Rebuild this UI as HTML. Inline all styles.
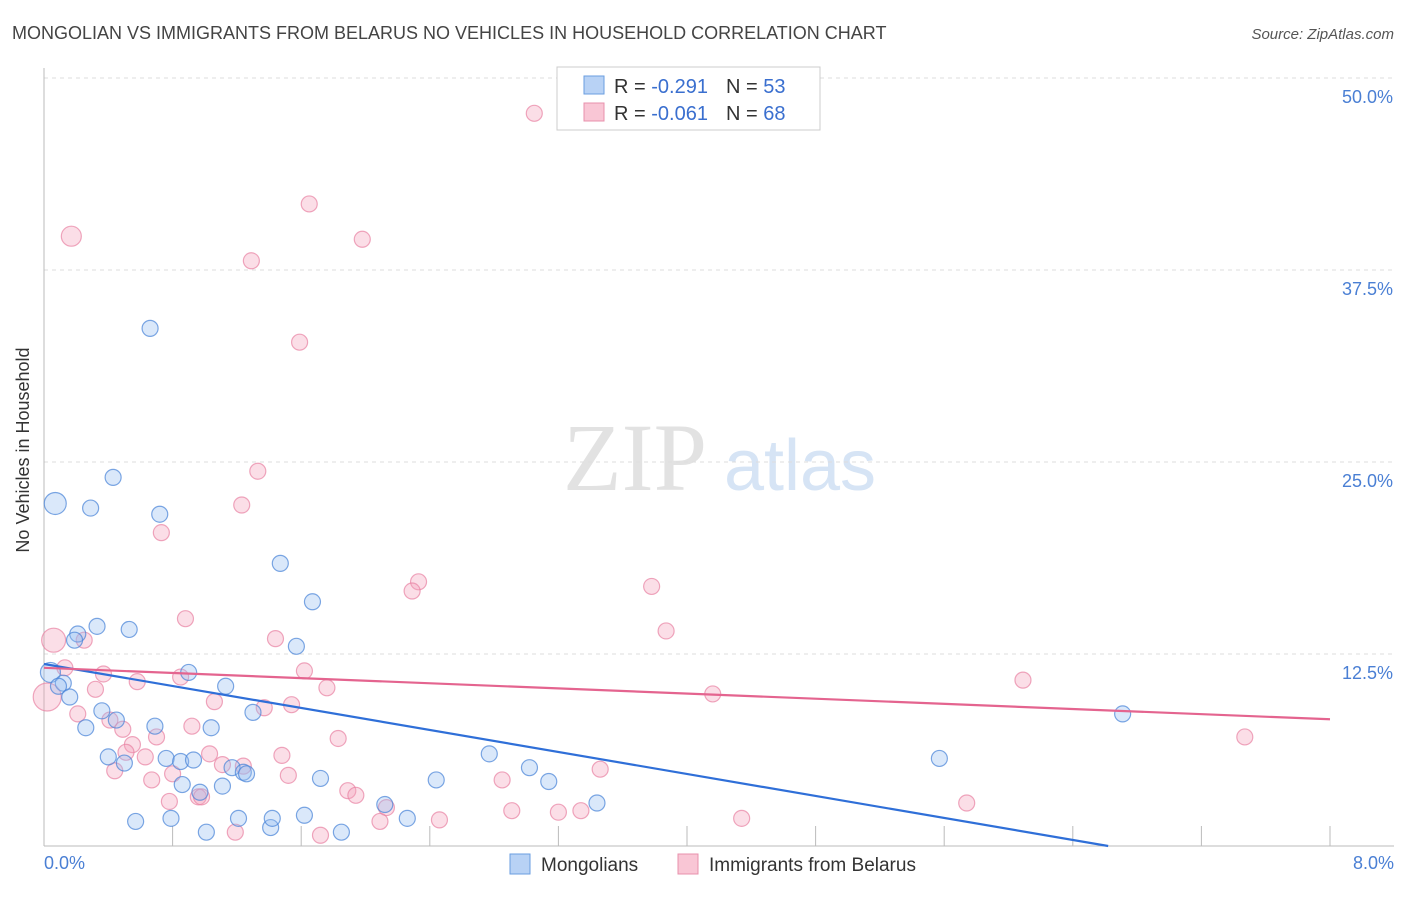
<!DOCTYPE html>
<html><head><meta charset="utf-8"><style>
body{margin:0;background:#fff;font-family:"Liberation Sans",sans-serif;}
svg text{font-family:"Liberation Sans",sans-serif;}
</style></head><body>
<svg width="1406" height="892" id="chart">
<text x="12" y="39" font-size="18" fill="#444">MONGOLIAN VS IMMIGRANTS FROM BELARUS NO VEHICLES IN HOUSEHOLD CORRELATION CHART</text>
<text x="1394" y="39" font-size="15" fill="#555" text-anchor="end" font-style="italic">Source: ZipAtlas.com</text>
<text x="635" y="490" font-size="96" fill="#e2e2e2" font-family="Liberation Serif" text-anchor="middle" style="font-family:'Liberation Serif',serif">ZIP</text>
<text x="800" y="490" font-size="72" fill="#d6e4f5" text-anchor="middle">atlas</text>
<g id="grid"></g>
<line x1="44" y1="68" x2="44" y2="846" stroke="#bbb"/>
<line x1="44" y1="846" x2="1394" y2="846" stroke="#bbb"/>
<text x="35" y="456" font-size="18" fill="#333" text-anchor="middle" transform="rotate(-90 29 456)">No Vehicles in Household</text>
<text x="44" y="869" font-size="18" fill="#4a7fd4">0.0%</text>
<text x="1394" y="869" font-size="18" fill="#4a7fd4" text-anchor="end">8.0%</text>
<g id="pts"></g>
<g id="lines"></g>
<g>
<rect x="557" y="67" width="263" height="63" fill="#fff" stroke="#ccc"/>
<rect x="584" y="76" width="20" height="18" fill="#b8d2f5" stroke="#6a9ee0"/>
<rect x="584" y="103" width="20" height="18" fill="#f9c6d5" stroke="#e890ac"/>
<text x="614" y="93" font-size="20" fill="#333">R = <tspan fill="#3a6fcf">-0.291</tspan><tspan dx="18">N = </tspan><tspan fill="#3a6fcf">53</tspan></text>
<text x="614" y="120" font-size="20" fill="#333">R = <tspan fill="#3a6fcf">-0.061</tspan><tspan dx="18">N = </tspan><tspan fill="#3a6fcf">68</tspan></text>
</g>
<g>
<rect x="510" y="854" width="20" height="20" fill="#b8d2f5" stroke="#6a9ee0"/>
<text x="541" y="871" font-size="19" fill="#333">Mongolians</text>
<rect x="678" y="854" width="20" height="20" fill="#f9c6d5" stroke="#e890ac"/>
<text x="709" y="871" font-size="19" fill="#333">Immigrants from Belarus</text>
</g>
</svg>
<script>
const yTicks=[12.5,25,37.5,50];
const yTickLabels=["12.5%","25.0%","37.5%","50.0%"];
const xTicks=[0,0.8,1.6,2.4,3.2,4.0,4.8,5.6,6.4,7.2,8.0];
const blueX=[0.66,0.43,0.07,0.29,0.72,1.47,1.67,0.33,0.53,0.21,0.19,1.57,0.90,0.04,0.12,0.09,0.16,1.13,0.36,0.45,0.69,1.04,1.30,0.26,0.40,0.50,0.76,0.85,0.93,1.17,1.24,1.26,2.77,3.02,1.72,2.44,3.14,0.86,0.97,1.11,2.12,3.44,5.57,6.71,0.57,0.79,1.01,1.21,1.41,1.42,1.62,1.85,2.26];
const blueY=[33.7,24.0,22.3,22.0,21.6,18.4,15.9,14.3,14.1,13.8,13.4,13.0,11.3,11.3,10.6,10.4,9.7,10.4,8.8,8.2,7.8,7.7,8.7,7.7,5.8,5.4,5.7,5.5,5.6,5.1,4.8,4.7,6.0,5.1,4.4,4.3,4.2,4.0,3.5,3.9,2.7,2.8,5.7,8.6,1.6,1.8,0.9,1.8,1.2,1.8,2.0,0.9,1.8];
const blueR=[8,8,11,8,8,8,8,8,8,8,8,8,8,10,8,8,8,8,8,8,8,8,8,8,8,8,8,8,8,8,8,8,8,8,8,8,8,8,8,8,8,8,8,8,8,8,8,8,8,8,8,8,8];
const pinkX=[3.05,0.17,1.65,1.98,1.29,1.59,1.33,1.23,0.73,2.33,2.29,3.78,0.88,3.87,0.06,0.25,1.44,0.13,1.62,0.37,0.58,0.85,0.32,1.76,1.06,1.37,1.54,4.16,6.09,0.02,0.21,0.41,0.49,0.92,0.70,1.83,0.55,0.51,0.63,1.03,1.48,1.24,1.11,0.44,0.67,0.80,1.52,2.85,3.46,7.47,1.89,1.94,0.96,0.78,2.13,2.91,3.20,3.34,5.74,2.09,2.46,4.34,1.19,1.72,0.98];
const pinkY=[47.7,39.7,41.8,39.5,38.1,32.8,24.4,22.2,20.4,17.2,16.6,16.9,14.8,14.0,13.4,13.4,13.5,11.6,11.4,11.2,10.7,11.0,10.2,10.3,9.4,9.0,9.2,9.9,10.8,9.7,8.6,8.2,7.6,7.8,7.1,7.0,6.6,6.1,5.8,6.0,5.9,5.2,5.3,4.9,4.3,4.7,4.6,4.3,5.0,7.1,3.6,3.3,3.2,2.9,2.5,2.3,2.2,2.3,2.8,1.6,1.7,1.8,0.9,0.7,3.2];
const pinkR=[8,10,8,8,8,8,8,8,8,8,8,8,8,8,12,8,8,8,8,8,8,8,8,8,8,8,8,8,8,14,8,8,8,8,8,8,8,8,8,8,8,8,8,8,8,8,8,8,8,8,8,8,8,8,8,8,8,8,8,8,8,8,8,8,8];
const blueTrend=[0,11.85,6.62,0];
const pinkTrend=[0,11.6,8.0,8.25];
const NS="http://www.w3.org/2000/svg";
function sx(v){return 44+v/8*1286;}
function sy(v){return 846-v*15.36;}
function mk(t,a,p){const e=document.createElementNS(NS,t);for(const k in a)e.setAttribute(k,a[k]);p.appendChild(e);return e;}
const grid=document.getElementById('grid');
yTicks.forEach((t,i)=>{
 const l=mk('line',{x1:44,x2:1394,y1:sy(t),y2:sy(t),stroke:'#ddd','stroke-dasharray':'4,4'},grid);
 
 
 const tx=mk('text',{x:1393,y:sy(t)+25,'font-size':18,fill:'#4a7fd4','text-anchor':'end'},grid);
 tx.textContent=yTickLabels[i];
 
 
});
xTicks.forEach(t=>{
 const l=mk('line',{x1:sx(t),x2:sx(t),y1:826,y2:846,stroke:'#bbb'},grid);
 
 
});
const pts=document.getElementById('pts');
pinkX.forEach((x,i)=>{
 const c=mk('circle',{cx:sx(x),cy:sy(pinkY[i]),r:pinkR[i],fill:'rgba(244,160,186,0.35)',stroke:'rgba(232,130,162,0.7)','stroke-width':1.2},pts);
 
 
});
blueX.forEach((x,i)=>{
 const c=mk('circle',{cx:sx(x),cy:sy(blueY[i]),r:blueR[i],fill:'rgba(150,190,240,0.35)',stroke:'rgba(70,130,215,0.7)','stroke-width':1.2},pts);
 
 
});
const lines=document.getElementById('lines');
const bl=mk('line',{x1:sx(blueTrend[0]),y1:sy(blueTrend[1]),x2:sx(blueTrend[2]),y2:sy(blueTrend[3]),stroke:'#2f6fd8','stroke-width':2.2},lines);


const pl=mk('line',{x1:sx(pinkTrend[0]),y1:sy(pinkTrend[1]),x2:sx(pinkTrend[2]),y2:sy(pinkTrend[3]),stroke:'#e4648f','stroke-width':2.2},lines);


</script>
</body></html>
